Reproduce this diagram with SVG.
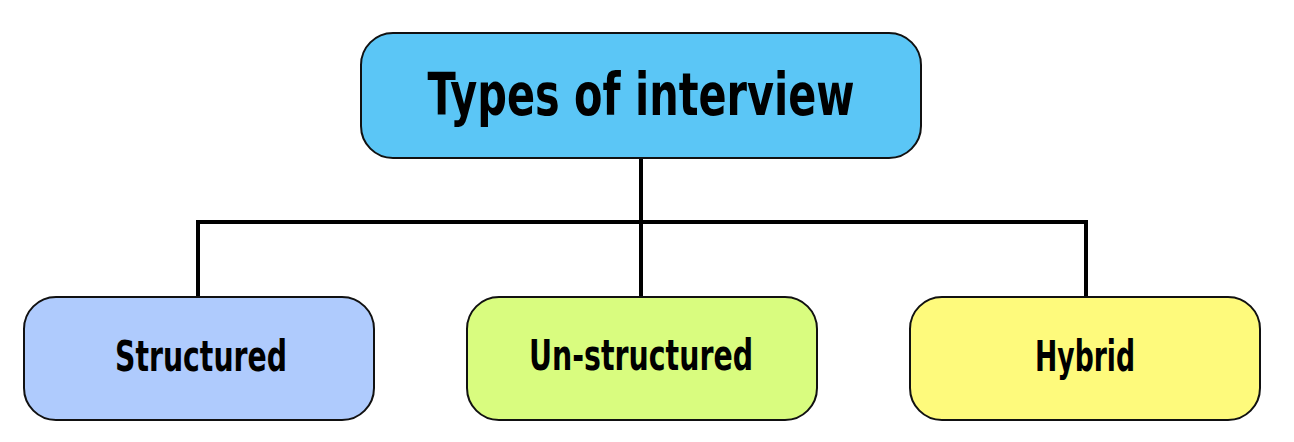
<svg xmlns="http://www.w3.org/2000/svg" width="1294" height="442" viewBox="0 0 1294 442">
  <style>
    .box { stroke: #111; stroke-width: 2; }
    .lbl { font-family: "DejaVu Sans Condensed", "DejaVu Sans", sans-serif; font-weight: bold; fill: #000; text-anchor: middle; }
    .conn { stroke: #000; stroke-width: 4; fill: none; }
  </style>
  <rect width="1294" height="442" fill="#ffffff"/>
  <g id="connectors">
    <line class="conn" x1="641" y1="158" x2="641" y2="297"/>
    <path class="conn" d="M198 297 V222 H1086 V297"/>
  </g>
  <g id="node-root">
    <rect class="box" x="361" y="33" width="560" height="125" rx="32" fill="#5BC6F6"/>
    <text class="lbl" x="641" y="115" font-size="58" textLength="427" lengthAdjust="spacingAndGlyphs">Types of interview</text>
  </g>
  <g id="node-structured">
    <rect class="box" x="24" y="297" width="350" height="123" rx="32" fill="#AFCBFD"/>
    <text class="lbl" x="201" y="371" font-size="42" textLength="172" lengthAdjust="spacingAndGlyphs">Structured</text>
  </g>
  <g id="node-unstructured">
    <rect class="box" x="467" y="297" width="350" height="123" rx="32" fill="#D9FC7F"/>
    <text class="lbl" x="641" y="370" font-size="42" textLength="224" lengthAdjust="spacingAndGlyphs">Un-structured</text>
  </g>
  <g id="node-hybrid">
    <rect class="box" x="910" y="297" width="350" height="123" rx="32" fill="#FEFA7C"/>
    <text class="lbl" x="1085" y="371" font-size="42" textLength="100" lengthAdjust="spacingAndGlyphs">Hybrid</text>
  </g>
</svg>
